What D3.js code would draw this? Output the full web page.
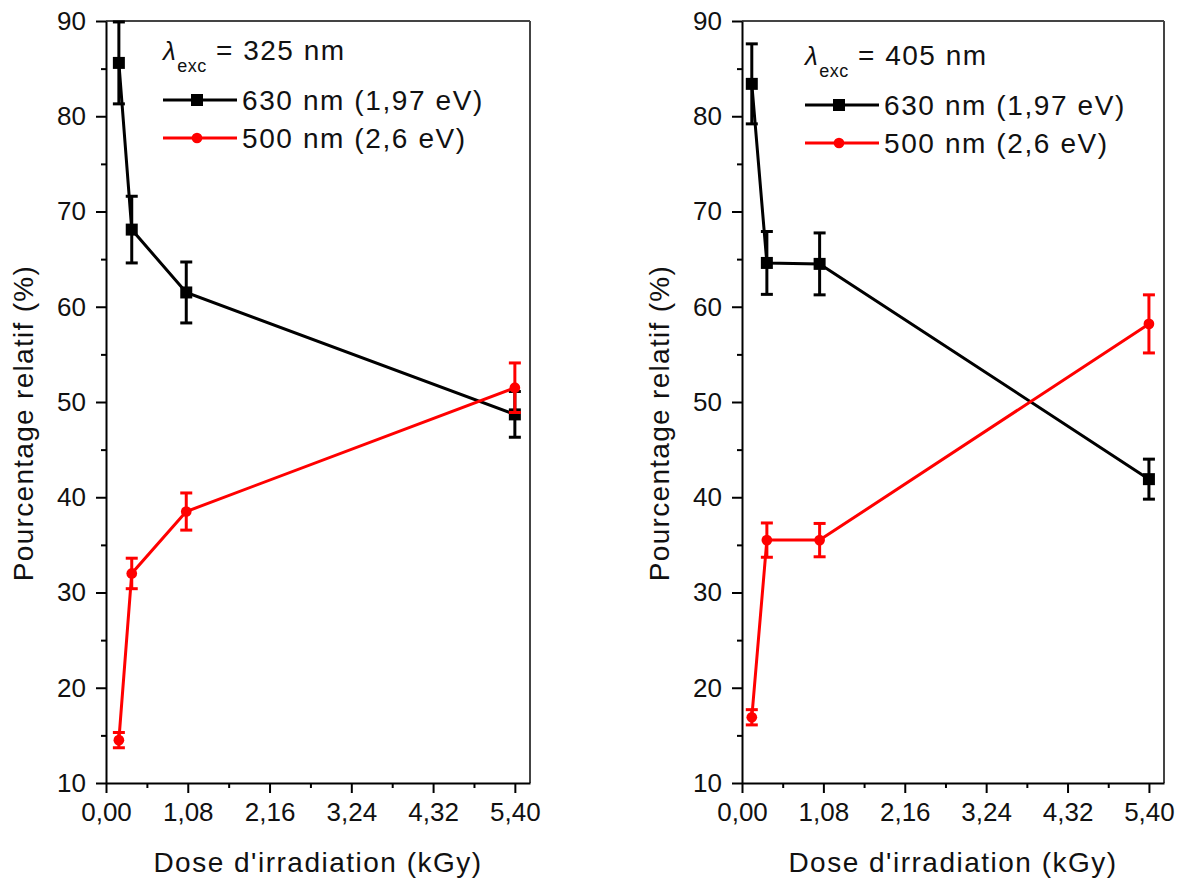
<!DOCTYPE html>
<html><head><meta charset="utf-8">
<script src="https://cdn.jsdelivr.net/npm/d3@7"></script>
<style>
html,body{margin:0;padding:0;background:#fff;}
svg{display:block;font-family:"Liberation Sans",Arial,sans-serif;}
</style></head>
<body><svg id="c" width="1181" height="881"></svg>
<script>
// ---- data ----
const xTicks = [0, 1.08, 2.16, 3.24, 4.32, 5.40];
const xMinor = [0.54, 1.62, 2.70, 3.78, 4.86];
const yTicks = [10, 20, 30, 40, 50, 60, 70, 80, 90];
const yMinor = [15, 25, 35, 45, 55, 65, 75, 85];
const seriesNames = ["630 nm (1,97 eV)", "500 nm (2,6 eV)"];
const excLeft = "325 nm";
const excRight = "405 nm";

const doseLeft = [0.17, 0.34, 1.06, 5.40];
const black325 = [85.6, 68.1, 61.5, 48.7];
const black325Err = [4.3, 3.5, 3.2, 2.4];
const red325 = [14.5, 32.0, 38.5, 51.5];
const red325Err = [0.8, 1.6, 1.95, 2.6];

const doseRight = [0.13, 0.33, 1.03, 5.40];
const black405 = [83.4, 64.6, 64.5, 41.9];
const black405Err = [4.2, 3.3, 3.25, 2.1];
const red405 = [16.9, 35.5, 35.5, 58.2];
const red405Err = [0.8, 1.8, 1.75, 3.05];

const xTitle = "Dose d'irradiation (kGy)";
const yTitle = "Pourcentage relatif (%)";

// ---- drawing ----
const svg = d3.select("#c");
const fmt = d => d.toFixed(2).replace(".", ",");

function panel(cfg) {
  const x = d3.scaleLinear().domain([0, 5.6]).range([cfg.x0, cfg.x1]);
  const y = d3.scaleLinear().domain([10, 90]).range([783, 21]);
  const g = svg.append("g");

  // frame top/right
  g.append("line").attr("x1", x(0)).attr("x2", x(5.6)).attr("y1", y(90)).attr("y2", y(90))
    .attr("stroke", "#444").attr("stroke-width", 2);
  g.append("line").attr("x1", x(5.6)).attr("x2", x(5.6)).attr("y1", y(90)).attr("y2", y(10))
    .attr("stroke", "#444").attr("stroke-width", 2);

  // minor ticks
  g.append("g").attr("transform", `translate(${x(0)},0)`)
    .call(d3.axisLeft(y).tickValues(yMinor).tickSize(5).tickFormat(""))
    .call(a => a.select(".domain").remove())
    .call(a => a.selectAll("line").attr("stroke-width", 2));
  g.append("g").attr("transform", `translate(0,${y(10)})`)
    .call(d3.axisBottom(x).tickValues(xMinor).tickSize(5).tickFormat(""))
    .call(a => a.select(".domain").remove())
    .call(a => a.selectAll("line").attr("stroke-width", 2));

  // major axes
  const ya = g.append("g").attr("transform", `translate(${x(0)},0)`)
    .call(d3.axisLeft(y).tickValues(yTicks).tickSize(10).tickSizeOuter(0).tickPadding(10).tickFormat(d3.format("d")));
  const xa = g.append("g").attr("transform", `translate(0,${y(10)})`)
    .call(d3.axisBottom(x).tickValues(xTicks).tickSize(10).tickSizeOuter(0).tickPadding(10).tickFormat(fmt));
  [ya, xa].forEach(a => {
    a.select(".domain").attr("stroke-width", 2).attr("stroke", "#000");
    a.selectAll("line").attr("stroke-width", 2);
    a.selectAll("text").attr("font-size", 26).attr("fill", "#111")
      .attr("font-family", "Liberation Sans, Arial, sans-serif");
  });

  // titles
  g.append("text").attr("x", (cfg.x0 + cfg.x1) / 2).attr("y", 872)
    .attr("text-anchor", "middle").attr("font-size", 28).attr("letter-spacing", 1.5)
    .attr("fill", "#111").text(xTitle);
  g.append("text").attr("transform", `translate(${cfg.x0 - 73},423) rotate(-90)`)
    .attr("text-anchor", "middle").attr("font-size", 28).attr("letter-spacing", 1.3)
    .attr("fill", "#111").text(yTitle);

  const line = d3.line().x(d => x(d[0])).y(d => y(d[1]));
  function series(vals, errs, color, shape) {
    const pts = cfg.dose.map((d, i) => [d, vals[i], errs[i]]);
    g.append("path").datum(pts).attr("d", line).attr("fill", "none")
      .attr("stroke", color).attr("stroke-width", 3);
    const eb = g.append("g").attr("stroke", color).attr("stroke-width", 3);
    pts.forEach(p => {
      eb.append("line").attr("x1", x(p[0])).attr("x2", x(p[0]))
        .attr("y1", y(p[1] + p[2])).attr("y2", y(p[1] - p[2]));
      [p[1] + p[2], p[1] - p[2]].forEach(v => {
        eb.append("line").attr("x1", x(p[0]) - 6).attr("x2", x(p[0]) + 6)
          .attr("y1", y(v)).attr("y2", y(v));
      });
    });
    const sym = d3.symbol().type(shape === "square" ? d3.symbolSquare : d3.symbolCircle)
      .size(shape === "square" ? 144 : 90);
    g.selectAll(null).data(pts).join("path")
      .attr("transform", p => `translate(${x(p[0])},${y(p[1])})`)
      .attr("d", sym).attr("fill", color);
  }
  series(cfg.black, cfg.blackErr, "#000", "square");
  series(cfg.red, cfg.redErr, "#ff0000", "circle");

  // legend
  const lx = cfg.lx, ly = cfg.ly;
  const t = g.append("text").attr("x", lx).attr("y", ly + 10).attr("font-size", 28)
    .attr("letter-spacing", 1.5).attr("fill", "#111");
  t.append("tspan").attr("font-style", "italic").attr("font-size", 26).text("λ");
  t.append("tspan").attr("font-size", 18).attr("dy", 12).attr("letter-spacing", 0.5).text("exc");
  t.append("tspan").attr("dy", -12).text(" = " + cfg.exc);
  const entries = [[seriesNames[0], "#000", "square", ly + 50], [seriesNames[1], "#ff0000", "circle", ly + 88]];
  entries.forEach(e => {
    g.append("line").attr("x1", lx).attr("x2", lx + 74).attr("y1", e[3]).attr("y2", e[3])
      .attr("stroke", e[1]).attr("stroke-width", 3);
    g.append("path").attr("transform", `translate(${lx + 34},${e[3]})`)
      .attr("d", d3.symbol().type(e[2] === "square" ? d3.symbolSquare : d3.symbolCircle)
        .size(e[2] === "square" ? 144 : 90)).attr("fill", e[1]);
    g.append("text").attr("x", lx + 79).attr("y", e[3] + 10).attr("font-size", 28)
      .attr("letter-spacing", 1.6).attr("fill", "#111").text(e[0]);
  });
}

panel({x0: 106, x1: 530, dose: doseLeft, black: black325, blackErr: black325Err,
  red: red325, redErr: red325Err, exc: excLeft, lx: 163, ly: 50});
panel({x0: 742, x1: 1164, dose: doseRight, black: black405, blackErr: black405Err,
  red: red405, redErr: red405Err, exc: excRight, lx: 805, ly: 55});
</script></body></html>
